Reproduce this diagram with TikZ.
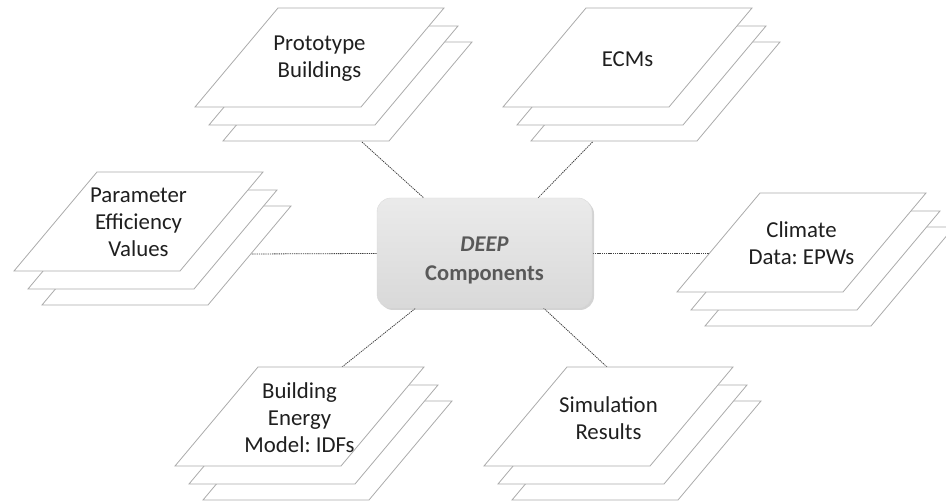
\documentclass[tikz,border=0pt]{standalone}
\usepackage{fontspec}
\setmainfont{Carlito}
\usepackage{xcolor}
\usetikzlibrary{calc,backgrounds,shadows}
\frenchspacing

\definecolor{sheetgray}{HTML}{ABABAB}
\definecolor{deepgray}{HTML}{595959}
\definecolor{linkgray}{HTML}{404040}

\tikzset{
  sheet/.style = {draw = sheetgray, fill = white, line width = 0.8pt},
  sheets/.pic = {
    \foreach \dx/\dy in {28/34, 14/18, 0/0}
      \draw[sheet] (\dx,\dy) -- ++(166,0) -- ++(-83,99) -- ++(-166,0) -- cycle;
  },
  sheettext/.style = {align = center, text = black!88,
    font = \fontsize{22.8}{27}\selectfont},
  deepbox/.style = {rounded corners = 14pt, minimum width = 215pt,
    minimum height = 110pt, top color = gray!16, bottom color = gray!30,
    draw = gray!30, line width = 0.4pt, align = center, text = deepgray,
    font = \bfseries\fontsize{22.5}{29}\selectfont,
    drop shadow = {shadow xshift = 2pt, shadow yshift = -2pt, opacity = 0.35}},
  link/.style = {draw = linkgray, line width = 0.8pt, dash pattern = on 1.3pt off 0.9pt}
}

\begin{document}
\begin{tikzpicture}[x = 1pt, y = -1pt]
  \useasboundingbox (0,0) rectangle (946,502);
  \clip (0,0) rectangle (946,502);

  % paper stacks
  \pic at (278,8) {sheets};
  \pic at (586,8) {sheets};
  \pic at (97,172) {sheets};
  \pic at (760,193) {sheets};
  \pic at (258,367) {sheets};
  \pic at (567,367) {sheets};

  \node[sheettext] (proto) at (319.5,59) {Prototype\\Buildings};
  \node[sheettext] (ecm) at (627.5,59) {ECMs};
  \node[sheettext] (param) at (138.5,222) {Parameter\\Efficiency\\Values};
  \node[sheettext] (climate) at (801.5,243) {Climate\\Data: EPWs};
  \node[sheettext] (bem) at (299.5,418) {Building\\Energy\\Model: IDFs};
  \node[sheettext] (sim) at (608.5,418) {Simulation\\Results};

  \node[deepbox] (deep) at (484.5,253) {\rule{0pt}{29pt}\textit{DEEP}\\Components};

  % where the links leave the stacks
  \coordinate (proto-out) at ($ (proto) + (42.5,83) $);
  \coordinate (ecm-out) at ($ (ecm) + (-35,83) $);
  \coordinate (param-out) at ($ (param) + (111.5,32) $);
  \coordinate (climate-out) at ($ (climate) + (-93,10) $);
  \coordinate (bem-out) at ($ (bem) + (42.5,-51) $);
  \coordinate (sim-out) at ($ (sim) + (-1.5,-51) $);

  \begin{scope}[on background layer]
    \foreach \s in {proto, ecm, param, climate, bem, sim}
      \draw[link] (\s-out) -- (deep);
  \end{scope}
\end{tikzpicture}
\end{document}
